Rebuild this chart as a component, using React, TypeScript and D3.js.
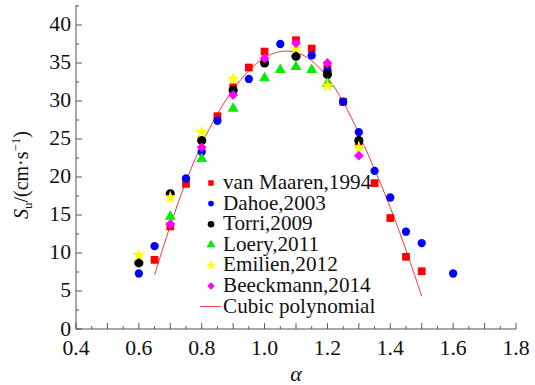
import React from "react";
import * as d3 from "d3";

const vanMaarenX = [0.65, 0.7, 0.75, 0.85, 0.9, 0.95, 1.0, 1.1, 1.15, 1.2, 1.25, 1.3, 1.35, 1.4, 1.45, 1.5];
const vanMaarenY = [9.1, 13.5, 19.1, 28.0, 31.8, 34.4, 36.5, 38.0, 36.9, 34.3, 29.9, 24.3, 19.2, 14.6, 9.5, 7.6];

const dahoeX = [0.6, 0.65, 0.75, 0.8, 0.85, 0.95, 1.05, 1.15, 1.2, 1.25, 1.3, 1.35, 1.4, 1.45, 1.5, 1.6];
const dahoeY = [7.3, 10.9, 19.8, 23.3, 27.4, 32.9, 37.5, 36.0, 34.0, 29.9, 25.9, 20.8, 17.3, 12.8, 11.3, 7.3];

const torriX = [0.6, 0.7, 0.8, 0.9, 1.0, 1.1, 1.2, 1.3];
const torriY = [8.7, 17.8, 24.8, 31.4, 35.0, 35.9, 33.5, 24.8];

const loeryX = [0.7, 0.8, 0.9, 1.0, 1.05, 1.1, 1.15, 1.2];
const loeryY = [14.8, 22.4, 29.0, 33.0, 34.1, 34.5, 34.1, 32.3];

const emilienX = [0.6, 0.7, 0.8, 0.9, 1.1, 1.2, 1.3];
const emilienY = [9.7, 17.3, 25.9, 32.9, 36.9, 32.0, 23.9];

const beeckmannX = [0.7, 0.8, 0.9, 1.0, 1.1, 1.2, 1.3];
const beeckmannY = [13.8, 23.9, 30.8, 35.6, 37.6, 35.0, 22.8];

const fitX = [0.65, 0.7, 0.75, 0.8, 0.85, 0.9, 0.95, 1.0, 1.05, 1.1, 1.15, 1.2, 1.25, 1.3, 1.35, 1.4, 1.45, 1.5];
const fitY = [7.1, 13.6, 19.4, 24.3, 28.3, 31.5, 34.0, 35.7, 36.5, 36.4, 35.3, 33.1, 29.9, 25.7, 21.0, 16.0, 10.4, 4.3];

const seriesNames = ["van Maaren,1994", "Dahoe,2003", "Torri,2009", "Loery,2011", "Emilien,2012", "Beeckmann,2014"];
const fitName = "Cubic polynomial";
const xTickLabels = [0.4, 0.6, 0.8, 1.0, 1.2, 1.4, 1.6, 1.8];
const yTickLabels = [0, 5, 10, 15, 20, 25, 30, 35, 40];

const FONT = "Liberation Serif";

type Marker = { color: string; type: d3.SymbolType; size: number; lsize: number; rot?: number };
const markers: Marker[] = [
  { color: "#ff0000", type: d3.symbolSquare, size: 60, lsize: 30 },
  { color: "#0000ff", type: d3.symbolCircle, size: 54, lsize: 26 },
  { color: "#000000", type: d3.symbolCircle, size: 66, lsize: 34 },
  { color: "#00ee00", type: d3.symbolTriangle, size: 52, lsize: 34 },
  { color: "#ffff00", type: d3.symbolStar, size: 55, lsize: 34 },
  { color: "#ff00ff", type: d3.symbolSquare, size: 48, lsize: 28, rot: 45 },
];

export default function App() {
  const W = 535, H = 385;
  const x = d3.scaleLinear().domain([0.4, 1.8]).range([76, 516]);
  const y = d3.scaleLinear().domain([0, 42.63]).range([329, 5]);

  const data = [
    { xs: vanMaarenX, ys: vanMaarenY },
    { xs: dahoeX, ys: dahoeY },
    { xs: torriX, ys: torriY },
    { xs: loeryX, ys: loeryY },
    { xs: emilienX, ys: emilienY },
    { xs: beeckmannX, ys: beeckmannY },
  ];

  const line = d3
    .line<number>()
    .x((_, i) => x(fitX[i]))
    .y((d) => y(d))
    .curve(d3.curveCatmullRom);

  const xMinor = d3.range(0, 29).map((i) => 0.4 + i * 0.05);
  const yMinor = d3.range(0, 18).map((i) => i * 2.5);

  const legendX = 211;
  const legendY0 = 183;
  const legendStep = 20.6;
  const sx = 1.06;

  return (
    <svg width={W} height={H} style={{ position: "absolute", left: 0, top: 0, background: "#fff", fontFamily: FONT }}>
      <rect x={0} y={0} width={W} height={H} fill="#fff" />
      <line x1={x(0.4)} x2={x(1.8)} y1={329} y2={329} stroke="#555" strokeWidth={1} />
      <line x1={76} x2={76} y1={329} y2={5} stroke="#555" strokeWidth={1} />
      {xMinor.map((v, i) => (
        <line key={"xt" + i} x1={x(v)} x2={x(v)} y1={329} y2={329 - (i % 2 === 0 ? 6 : 3)} stroke="#555" strokeWidth={1} />
      ))}
      {yMinor.map((v, i) => (
        <line key={"yt" + i} x1={76} x2={76 + (i % 2 === 0 ? 6 : 3)} y1={y(v)} y2={y(v)} stroke="#555" strokeWidth={1} />
      ))}
      {xTickLabels.map((v) => (
        <text key={"xl" + v} transform={`translate(${x(v)},355) scale(${sx},1)`} textAnchor="middle" fontSize={20.5} fill="#111">
          {v.toFixed(1)}
        </text>
      ))}
      {yTickLabels.map((v) => (
        <text key={"yl" + v} transform={`translate(71,${y(v) + 6.5}) scale(${sx},1)`} textAnchor="end" fontSize={20.5} fill="#111">
          {v}
        </text>
      ))}
      <text x={296} y={381} textAnchor="middle" fontSize={22} fontStyle="italic" fill="#111">
        α
      </text>
      <text transform="translate(28,175) rotate(-90)" textAnchor="middle" fontSize={20} fill="#111">
        <tspan fontStyle="italic">S</tspan>
        <tspan fontSize={13} dy={4}>u</tspan>
        <tspan dy={-4}>/(cm·s</tspan>
        <tspan fontSize={13} dy={-8}>−1</tspan>
        <tspan dy={8}>)</tspan>
      </text>

      <path d={line(fitY) || ""} fill="none" stroke="#f03a3a" strokeWidth={1} />

      {data.map((s, si) => {
        const m = markers[si];
        const p = d3.symbol().type(m.type).size(m.size)() || "";
        return (
          <g key={"s" + si}>
            {s.xs.map((xv, i) => (
              <path
                key={i}
                d={p}
                fill={m.color}
                transform={`translate(${x(xv)},${y(s.ys[i])})${m.rot ? ` rotate(${m.rot})` : ""}`}
              />
            ))}
          </g>
        );
      })}

      {seriesNames.map((name, i) => {
        const m = markers[i];
        const p = d3.symbol().type(m.type).size(m.lsize)() || "";
        const cy = legendY0 + i * legendStep;
        return (
          <g key={"lg" + i}>
            <path d={p} fill={m.color} transform={`translate(${legendX},${cy})${m.rot ? ` rotate(${m.rot})` : ""}`} />
            <text transform={`translate(223,${cy + 6}) scale(${sx},1)`} fontSize={20} fill="#111">
              {name}
            </text>
          </g>
        );
      })}
      <line x1={200} x2={221} y1={legendY0 + 6 * legendStep} y2={legendY0 + 6 * legendStep} stroke="#f03a3a" strokeWidth={1} />
      <text transform={`translate(223,${legendY0 + 6 * legendStep + 6}) scale(${sx},1)`} fontSize={20} fill="#111">
        {fitName}
      </text>
    </svg>
  );
}
